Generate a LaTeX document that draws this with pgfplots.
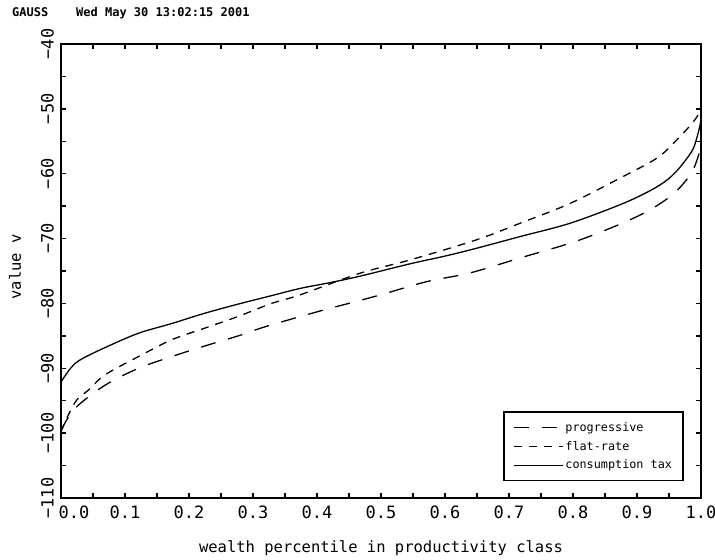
\documentclass[border=0pt]{standalone}
\usepackage{pgfplots}
\pgfplotsset{compat=1.18}
\usepackage{fontspec}
\setmainfont{DejaVu Sans}
\newfontfamily\gmono{DejaVu Sans Mono}
\newfontfamily\gmonob{DejaVu Sans Mono Bold}

\begin{document}
\begin{tikzpicture}
\path[use as bounding box] (-61bp,-62bp) rectangle (654bp,498bp);
\begin{axis}[
  at={(0,0)}, anchor=south west,
  scale only axis, width=640bp, height=454bp,
  xmin=0, xmax=1, ymin=-110, ymax=-40,
  xtick={0,0.1,0.2,0.3,0.4,0.5,0.6,0.7,0.8,0.9,1},
  xticklabels={\hspace*{26bp}0.0,0.1,0.2,0.3,0.4,0.5,0.6,0.7,0.8,0.9,1.0},
  ytick={-110,-100,-90,-80,-70,-60,-50,-40},
  yticklabels={−110,−100,−90,−80,−70,−60,−50,−40},
  minor x tick num=1, minor y tick num=1,
  tick align=inside, xtick pos=both, ytick pos=both,
  xticklabel pos=lower, yticklabel pos=left,
  major tick length=5bp, minor tick length=5bp,
  tick style={line width=1.5bp, black},
  axis line style={line width=2.5bp},
  yticklabel shift=3.5bp,
  xticklabel style={font=\gmono\fontsize{17bp}{19bp}\selectfont, yshift=-4bp},
  yticklabel style={font=\gmono\fontsize{17bp}{19bp}\selectfont, rotate=90, anchor=south},
  xlabel={wealth percentile in productivity class},
  ylabel={value v},
  xlabel style={font=\gmono\fontsize{15.5bp}{18bp}\selectfont, at={(axis description cs:0.5,-0.110)}, anchor=center},
  ylabel style={font=\gmono\fontsize{15.5bp}{18bp}\selectfont, at={(axis description cs:-0.0719,0.509)}, anchor=center, rotate=0},
  legend style={draw=black, line width=1.5bp, font=\gmono\fontsize{11.8bp}{14bp}\selectfont,
    at={(rel axis cs:0.973,0.037)}, anchor=south east, inner xsep=9bp, inner ysep=8bp,
    row sep=4.5bp, cells={anchor=west}},
  legend image code/.code={\draw[#1] (0bp,0bp) -- (42bp,0bp); \path (0bp,0bp) -- (49bp,0bp);},
]
\addplot[black, line width=1.3bp, dash pattern=on 15bp off 13bp, smooth, tension=0.55] coordinates {
(0,-99.6) (0.01,-97.8) (0.027,-95.7) (0.069,-92.6) (0.121,-90.0) (0.173,-88.2)
(0.22,-86.7) (0.277,-85.0) (0.319,-83.6) (0.4,-81.3) (0.493,-78.85) (0.571,-76.65)
(0.639,-75.3) (0.717,-73.0) (0.811,-70.2) (0.9,-66.6) (0.952,-63.5) (0.983,-60.2)
(0.995,-57.5) (1.0,-55.5)};
\addlegendentry{progressive}
\addplot[black, line width=1.3bp, dash pattern=on 8bp off 7bp, smooth, tension=0.55] coordinates {
(0,-99.8) (0.01,-97.5) (0.0245,-94.9) (0.043,-93.35) (0.069,-91.0) (0.121,-88.2)
(0.173,-85.6) (0.225,-83.8) (0.277,-82.0) (0.329,-80.0) (0.373,-78.7) (0.467,-75.35)
(0.545,-73.3) (0.649,-70.2) (0.717,-67.65) (0.795,-64.6) (0.873,-60.7) (0.931,-57.6)
(0.962,-54.8) (0.988,-52.0) (1.0,-50.2)};
\addlegendentry{flat-rate}
\addplot[black, line width=1.3bp, smooth, tension=0.55] coordinates {
(0,-92.1) (0.015,-90.0) (0.03,-88.7) (0.069,-86.8) (0.121,-84.6) (0.173,-83.1)
(0.225,-81.5) (0.277,-80.1) (0.329,-78.8) (0.373,-77.7) (0.42,-76.8) (0.467,-75.8)
(0.545,-73.9) (0.6,-72.7) (0.649,-71.5) (0.717,-69.7) (0.795,-67.65) (0.873,-64.8)
(0.915,-62.9) (0.941,-61.4) (0.958,-60.0) (0.972,-58.4) (0.988,-56.1) (0.998,-52.75) (1.0,-51.5)};
\addlegendentry{consumption tax}
\end{axis}
\node[anchor=base west, font=\gmonob\fontsize{12bp}{14bp}\selectfont, inner sep=0pt] at (-49bp,481bp) {GAUSS};
\node[anchor=base west, font=\gmonob\fontsize{12bp}{14bp}\selectfont, inner sep=0pt] at (15bp,481bp) {Wed May 30 13:02:15 2001};
\end{tikzpicture}
\end{document}
